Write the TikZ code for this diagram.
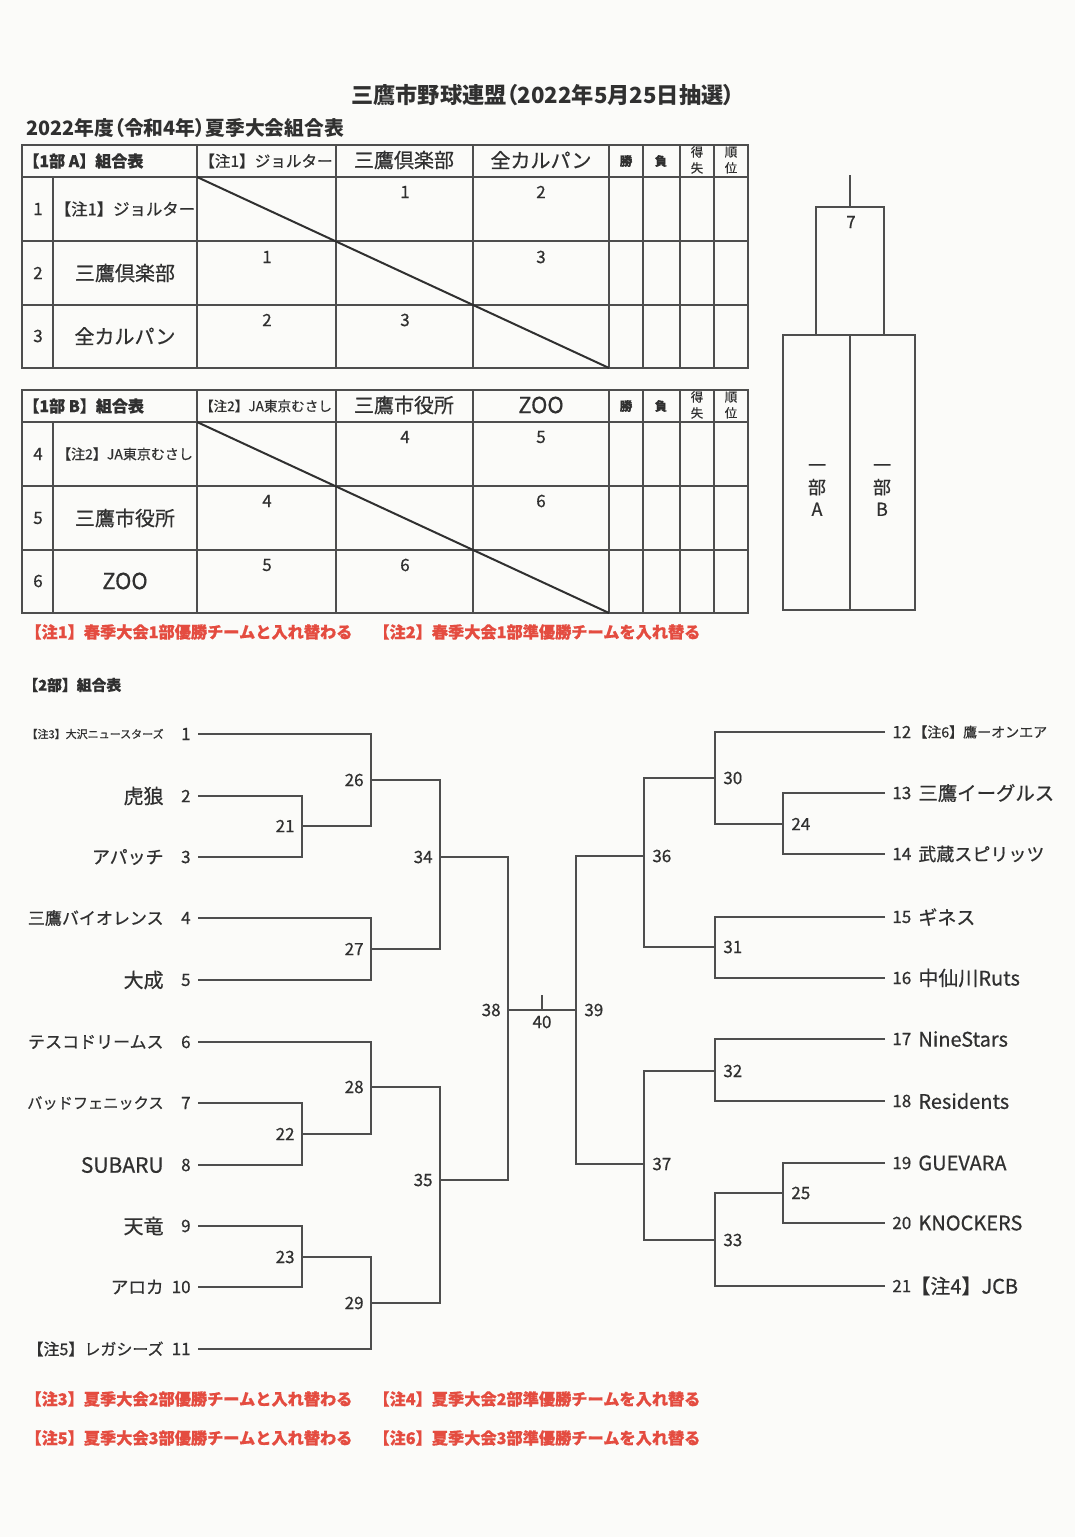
\documentclass[tikz,border=0pt]{standalone}
\usepackage{fontspec}
\setmainfont{Noto Sans CJK JP}[FakeBold=0.6]
\newfontfamily\pfont{Noto Sans CJK JP}[RawFeature=+palt]
\usetikzlibrary{calc}
\definecolor{inkgray}{RGB}{48,48,48}
\definecolor{linegray}{RGB}{78,78,78}
\definecolor{notered}{RGB}{228,76,64}
\definecolor{paper}{RGB}{251,251,249}
\newcommand\fsz[1]{\fontsize{#1}{#1}\selectfont}
\tikzset{
  rule/.style={draw=linegray,line width=1pt},
  grid/.style={draw=linegray,line width=0.9pt},
  cut/.style={draw=inkgray,line width=1pt},
  txt/.style={inner sep=0pt,text=inkgray},
  lbl/.style={txt,font=\fsz{8.5}},
  head/.style={txt,font=\bfseries\fsz{8},anchor=west},
  note/.style={inner sep=0pt,text=notered,font=\bfseries\fsz{8.1},anchor=west},
}
\begin{document}
\begin{tikzpicture}[x=0.5pt,y=-0.5pt]
  \fill[paper] (0,0) rectangle (1075,1537);
  \useasboundingbox (0,0) rectangle (1075,1537);
  % ── titles ──
  \node[txt,font=\pfont\bfseries\fsz{11.1}] (title) at (543,95) {三鷹市野球連盟（2022年5月25日抽選）};
  \node[head,font=\pfont\bfseries\fsz{9.9}] (season) at (26,128) {2022年度（令和4年）夏季大会組合表};
  % ── 1部 league tables: grid lines for A and B ──
  \foreach \dy/\t in {0/A,245/B}{
    \begin{scope}[shift={(0,\dy)}]
      \draw[grid] (22,145) rectangle (748,368);
      \foreach \yy in {177,241,305} \draw[grid] (22,\yy) -- (748,\yy);
      \foreach \xx in {197,336,473,609,643,680,714} \draw[grid] (\xx,145) -- (\xx,368);
      \draw[grid] (53,177) -- (53,368);
      \draw[cut] (197,177) -- (609,368);
      \node[txt,font=\bfseries\fsz{6.2}] (win\t)  at (626,161) {勝};
      \node[txt,font=\bfseries\fsz{6.2}] (loss\t) at (661,161) {負};
      \node[txt,font=\fontsize{6.2}{8}\selectfont,align=center] (diff\t) at (697,160) {得\\失};
      \node[txt,font=\fontsize{6.2}{8}\selectfont,align=center] (rank\t) at (731,160) {順\\位};
    \end{scope}
  }
  % ── table A texts ──
  \node[head] (hA) at (23,161) {【1部 A】組合表};
  \node[txt,font=\fsz{7.8}] (colA1) at (266,161) {【注1】ジョルター};
  \node[txt,font=\fsz{10}]  (colA2) at (404,160) {三鷹倶楽部};
  \node[txt,font=\fsz{10}]  (colA3) at (541,160) {全カルパン};
  \foreach \i/\yy/\fs/\txt in {1/209/8.2/{【注1】ジョルター},2/273/10/三鷹倶楽部,3/336/10/全カルパン}{
    \node[lbl] (rn\i) at (38,\yy) {\i};
    \node[txt,font=\fsz{\fs}] (rt\i) at (125,\yy) {\txt};
  }
  % ── table B texts ──
  \node[head] (hB) at (23,406) {【1部 B】組合表};
  \node[txt,font=\fsz{6.8}] (colB1) at (266,406) {【注2】JA東京むさし};
  \node[txt,font=\fsz{10}]  (colB2) at (404,405) {三鷹市役所};
  \node[txt,font=\fsz{11}]  (colB3) at (541,405) {ZOO};
  \foreach \i/\yy/\fs/\txt in {4/454/7/{【注2】JA東京むさし},5/518/10/三鷹市役所,6/581/11/ZOO}{
    \node[lbl] (rn\i) at (38,\yy) {\i};
    \node[txt,font=\fsz{\fs}] (rt\i) at (125,\yy) {\txt};
  }
  % game numbers in the cells
  \foreach \xx/\yy/\g in {405/192/1,541/192/2,267/257/1,541/257/3,267/320/2,405/320/3,
                          405/437/4,541/437/5,267/501/4,541/501/6,267/565/5,405/565/6}{
    \node[lbl] (cell-\xx-\yy) at (\xx,\yy) {\g};
  }
  % ── 1部 final: A vs B ──
  \coordinate (ftop) at (850,175);
  \coordinate (fbox) at (850,207);
  \draw[rule] (ftop) -- (fbox);
  \draw[rule] (816,207) rectangle (884,335);
  \draw[rule] (783,335) rectangle (915,610);
  \draw[rule] (850,335) -- (850,610);
  \node[lbl] (g7) at (851,222) {7};
  \node[txt,font=\fontsize{9}{11}\selectfont,align=center] (divA) at (817,490) {一\\部\\A};
  \node[txt,font=\fontsize{9}{11}\selectfont,align=center] (divB) at (882,490) {一\\部\\B};
  % ── notes for 1部 ──
  \node[note] (note1) at (25,632) {【注1】春季大会1部優勝チームと入れ替わる};
  \node[note] (note2) at (373,632) {【注2】春季大会1部準優勝チームを入れ替る};
  \node[head,font=\bfseries\fsz{7.4}] (h2) at (23,685) {【2部】組合表};
  % ── 2部 bracket: teams ──
  \foreach \i/\yy/\fs/\txt in {1/734/5.5/{【注3】大沢ニュースターズ},2/796/10/虎狼,3/857/9/アパッチ,
      4/918/8.5/三鷹バイオレンス,5/980/10/大成,6/1042/8.5/テスコドリームス,
      7/1103/7.6/バッドフェニックス,8/1165/10.5/SUBARU,9/1226/10/天竜,10/1287/8.8/アロカ,
      11/1349/8/{【注5】レガシーズ}}{
    \node[lbl,anchor=east] (num\i) at (191,\yy) {\i};
    \node[txt,anchor=east,font=\fsz{\fs}] (team\i) at (164,\yy) {\txt};
    \coordinate (s\i) at (198,\yy);
  }
  \foreach \i/\yy/\fs/\dx/\txt in {12/732/7/-5/{【注6】鷹ーオンエア},13/793/9.7/0/三鷹イーグルス,
      14/854/9/0/武蔵スピリッツ,15/917/9.5/0/ギネス,16/978/10/0/中仙川Ruts,17/1039/10/0/NineStars,
      18/1101/10/0/Residents,19/1163/10/0/GUEVARA,20/1223/10/0/KNOCKERS,21/1286/10/-8/{【注4】JCB}}{
    \node[lbl,anchor=west] (num\i) at (892,\yy) {\i};
    \node[txt,anchor=west,font=\fsz{\fs}] (team\i) at (918+\dx,\yy) {\txt};
    \coordinate (e\i) at (885,\yy);
  }
  % ── 2部 bracket: match points ──
  \foreach \m/\xx/\yy in {21/302/826,22/302/1134,23/302/1257,26/371/780,27/371/949,
      28/371/1087,29/371/1303,34/440/857,35/440/1180,38/508/1010}{
    \coordinate (m\m) at (\xx,\yy);
    \node[lbl,anchor=east] (l\m) at (\xx-7,\yy) {\m};
  }
  \foreach \m/\xx/\yy in {24/783/824,25/783/1193,30/715/778,31/715/947,32/715/1071,
      33/715/1240,36/644/856,37/644/1164,39/576/1010}{
    \coordinate (m\m) at (\xx,\yy);
    \node[lbl,anchor=west] (l\m) at (\xx+8,\yy) {\m};
  }
  \coordinate (m40) at (542,1010);
  \coordinate (m40top) at (542,995);
  \node[lbl] (l40) at (542,1022) {40};
  % ── 2部 bracket: left half ──
  \draw[rule] (s2) -| (m21) |- (s3);
  \draw[rule] (s1) -| (m26) |- (m21);
  \draw[rule] (s4) -| (m27) |- (s5);
  \draw[rule] (m26) -| (m34) |- (m27);
  \draw[rule] (s7) -| (m22) |- (s8);
  \draw[rule] (s6) -| (m28) |- (m22);
  \draw[rule] (s9) -| (m23) |- (s10);
  \draw[rule] (m23) -| (m29) |- (s11);
  \draw[rule] (m28) -| (m35) |- (m29);
  \draw[rule] (m34) -| (m38) |- (m35);
  % final
  \draw[rule] (m38) -- (m39);
  \draw[rule] (m40) -- (m40top);
  % ── 2部 bracket: right half ──
  \draw[rule] (e13) -| (m24) |- (e14);
  \draw[rule] (e12) -| (m30) |- (m24);
  \draw[rule] (e15) -| (m31) |- (e16);
  \draw[rule] (m30) -| (m36) |- (m31);
  \draw[rule] (e17) -| (m32) |- (e18);
  \draw[rule] (e19) -| (m25) |- (e20);
  \draw[rule] (m25) -| (m33) |- (e21);
  \draw[rule] (m32) -| (m37) |- (m33);
  \draw[rule] (m36) -| (m39) |- (m37);
  % ── notes for 2部 ──
  \node[note] (note3) at (25,1399) {【注3】夏季大会2部優勝チームと入れ替わる};
  \node[note] (note4) at (373,1399) {【注4】夏季大会2部準優勝チームを入れ替る};
  \node[note] (note5) at (25,1438) {【注5】夏季大会3部優勝チームと入れ替わる};
  \node[note] (note6) at (373,1438) {【注6】夏季大会3部準優勝チームを入れ替る};
\end{tikzpicture}
\end{document}
